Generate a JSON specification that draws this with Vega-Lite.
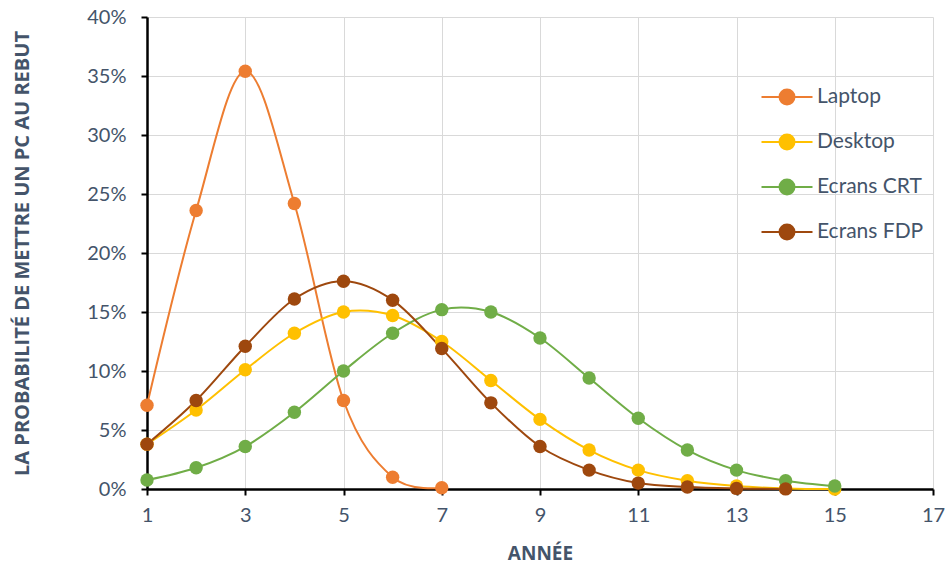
{
  "$schema": "https://vega.github.io/schema/vega-lite/v6.json",
  "width": 786,
  "height": 472,
  "autosize": {"type": "none"},
  "padding": {"left": 147, "top": 17, "right": 13, "bottom": 80},
  "background": "white",
  "config": {
    "font": "Lato",
    "view": {"stroke": null},
    "axis": {
      "labelFont": "Lato", "labelColor": "#44546A", "labelFontSize": 20,
      "titleFont": "Open Sans", "titleColor": "#44546A", "titleFontSize": 19, "titleFontWeight": "bold",
      "domainColor": "#000000", "domainWidth": 2.5, "tickColor": "#000000", "tickWidth": 2, "tickSize": 6,
      "gridColor": "#D9D9D9", "gridWidth": 1
    }
  },
  "data": {"values": [
    {"annee": 1, "serie": "Laptop", "p": 0.071},
    {"annee": 2, "serie": "Laptop", "p": 0.236},
    {"annee": 3, "serie": "Laptop", "p": 0.354},
    {"annee": 4, "serie": "Laptop", "p": 0.242},
    {"annee": 5, "serie": "Laptop", "p": 0.075},
    {"annee": 6, "serie": "Laptop", "p": 0.010},
    {"annee": 7, "serie": "Laptop", "p": 0.001},
    {"annee": 1, "serie": "Desktop", "p": 0.038},
    {"annee": 2, "serie": "Desktop", "p": 0.067},
    {"annee": 3, "serie": "Desktop", "p": 0.101},
    {"annee": 4, "serie": "Desktop", "p": 0.132},
    {"annee": 5, "serie": "Desktop", "p": 0.150},
    {"annee": 6, "serie": "Desktop", "p": 0.147},
    {"annee": 7, "serie": "Desktop", "p": 0.125},
    {"annee": 8, "serie": "Desktop", "p": 0.092},
    {"annee": 9, "serie": "Desktop", "p": 0.059},
    {"annee": 10, "serie": "Desktop", "p": 0.033},
    {"annee": 11, "serie": "Desktop", "p": 0.016},
    {"annee": 12, "serie": "Desktop", "p": 0.007},
    {"annee": 13, "serie": "Desktop", "p": 0.0025},
    {"annee": 14, "serie": "Desktop", "p": 0.0005},
    {"annee": 15, "serie": "Desktop", "p": 0.0},
    {"annee": 1, "serie": "Ecrans CRT", "p": 0.0076},
    {"annee": 2, "serie": "Ecrans CRT", "p": 0.018},
    {"annee": 3, "serie": "Ecrans CRT", "p": 0.036},
    {"annee": 4, "serie": "Ecrans CRT", "p": 0.065},
    {"annee": 5, "serie": "Ecrans CRT", "p": 0.100},
    {"annee": 6, "serie": "Ecrans CRT", "p": 0.132},
    {"annee": 7, "serie": "Ecrans CRT", "p": 0.152},
    {"annee": 8, "serie": "Ecrans CRT", "p": 0.150},
    {"annee": 9, "serie": "Ecrans CRT", "p": 0.128},
    {"annee": 10, "serie": "Ecrans CRT", "p": 0.094},
    {"annee": 11, "serie": "Ecrans CRT", "p": 0.060},
    {"annee": 12, "serie": "Ecrans CRT", "p": 0.033},
    {"annee": 13, "serie": "Ecrans CRT", "p": 0.016},
    {"annee": 14, "serie": "Ecrans CRT", "p": 0.007},
    {"annee": 15, "serie": "Ecrans CRT", "p": 0.0025},
    {"annee": 1, "serie": "Ecrans FDP", "p": 0.038},
    {"annee": 2, "serie": "Ecrans FDP", "p": 0.075},
    {"annee": 3, "serie": "Ecrans FDP", "p": 0.121},
    {"annee": 4, "serie": "Ecrans FDP", "p": 0.161},
    {"annee": 5, "serie": "Ecrans FDP", "p": 0.176},
    {"annee": 6, "serie": "Ecrans FDP", "p": 0.160},
    {"annee": 7, "serie": "Ecrans FDP", "p": 0.119},
    {"annee": 8, "serie": "Ecrans FDP", "p": 0.073},
    {"annee": 9, "serie": "Ecrans FDP", "p": 0.036},
    {"annee": 10, "serie": "Ecrans FDP", "p": 0.016},
    {"annee": 11, "serie": "Ecrans FDP", "p": 0.005},
    {"annee": 12, "serie": "Ecrans FDP", "p": 0.0017},
    {"annee": 13, "serie": "Ecrans FDP", "p": 0.0005},
    {"annee": 14, "serie": "Ecrans FDP", "p": 0.0001}
  ]},
  "encoding": {
    "x": {
      "field": "annee", "type": "quantitative",
      "scale": {"domain": [1, 17], "nice": false, "zero": false},
      "axis": {"values": [1, 3, 5, 7, 9, 11, 13, 15, 17], "title": "ANNÉE", "titlePadding": 19, "labelPadding": 10, "labelFlush": false, "grid": true}
    },
    "y": {
      "field": "p", "type": "quantitative",
      "scale": {"domain": [0, 0.4], "nice": false},
      "axis": {"values": [0, 0.05, 0.1, 0.15, 0.2, 0.25, 0.3, 0.35, 0.4], "format": ".0%", "title": "LA PROBABILITÉ DE METTRE UN PC AU REBUT", "titleX": -115, "titleFontSize": 20, "labelPadding": 15, "labelFlush": false, "grid": true}
    },
    "color": {
      "field": "serie", "type": "nominal",
      "scale": {"domain": ["Laptop", "Desktop", "Ecrans CRT", "Ecrans FDP"], "range": ["#ED7D31", "#FFC000", "#70AD47", "#9E480E"]},
      "legend": {
        "title": null, "orient": "none", "legendX": 622, "legendY": 62,
        "symbolType": "M -1.5 0 L 1.5 0 M 0.44 0 A 0.44 0.44 0 1 1 -0.44 0 A 0.44 0.44 0 1 1 0.44 0 Z",
        "symbolSize": 1156, "symbolStrokeWidth": 2, "symbolOpacity": 1,
        "labelFont": "Lato", "labelFontSize": 21, "labelColor": "#44546A", "labelOffset": 12,
        "rowPadding": 15
      }
    }
  },
  "layer": [
    {"mark": {"type": "line", "interpolate": "cardinal", "strokeWidth": 2}},
    {"mark": {"type": "point", "filled": true, "size": 180, "opacity": 1, "shape": "circle"}}
  ]
}
